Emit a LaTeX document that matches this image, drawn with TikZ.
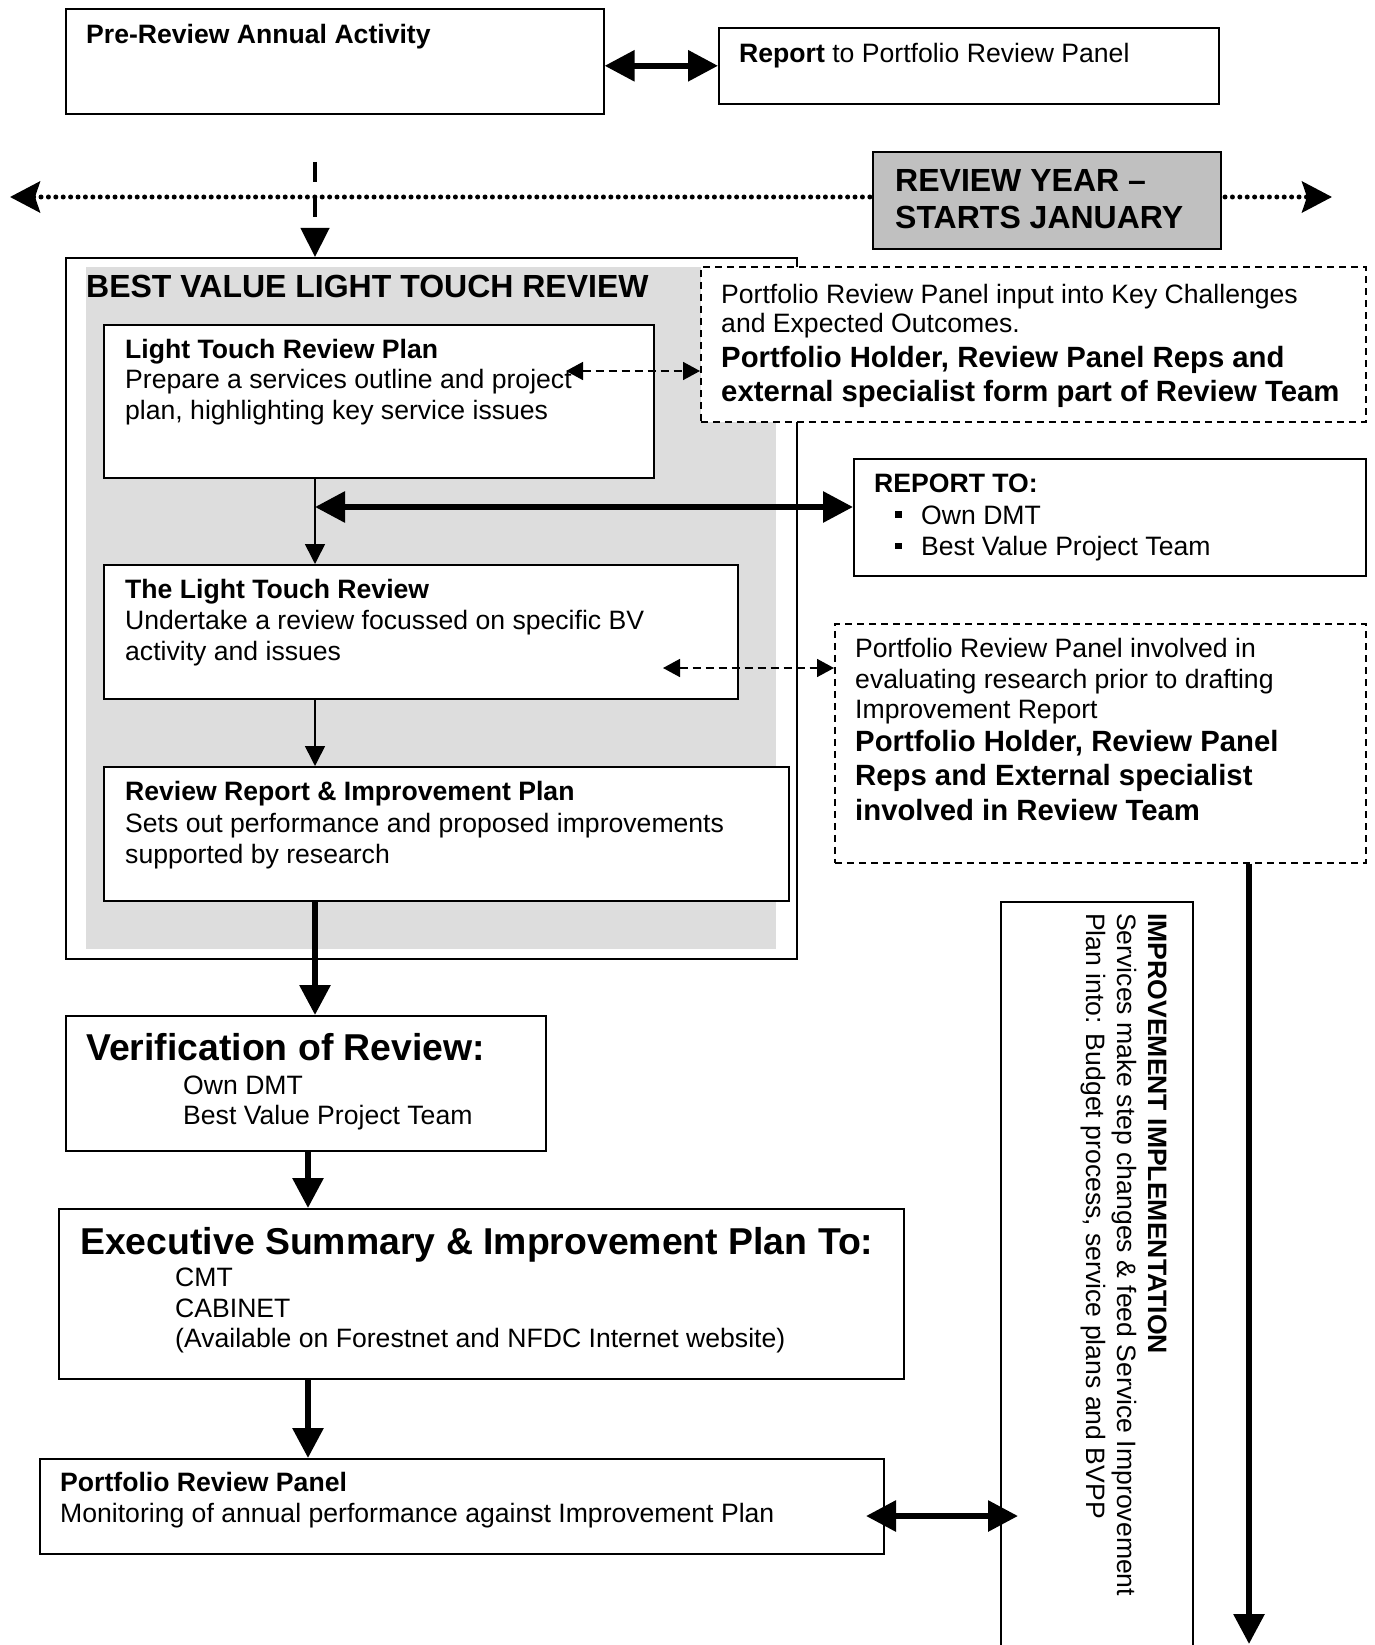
\documentclass[tikz,border=0pt]{standalone}
\usepackage{fontspec}
\setmainfont{Liberation Sans}
\usetikzlibrary{arrows.meta}
\definecolor{yeargray}{HTML}{C0C0C0}
\definecolor{reviewgray}{HTML}{DDDDDD}
\newcommand{\txtsize}{\fontsize{26.6pt}{30.8pt}\selectfont}
\newcommand{\bigsize}{\fontsize{32pt}{37.5pt}\selectfont}
\newcommand{\hugesize}{\fontsize{37.4pt}{43pt}\selectfont}
\newcommand{\teamsize}{\fontsize{29.3pt}{34.5pt}\selectfont}
\newcommand{\sqitem}{\makebox[47pt][l]{\hspace*{21pt}\rule[6.5pt]{6.5pt}{6.5pt}}}

\begin{document}
\begin{tikzpicture}
[every node/.style={inner sep=0pt},
 flowbox/.style={rectangle, anchor=north west, draw=black, line width=1.6pt, fill=white},
 dashedbox/.style={flowbox, dash pattern=on 7pt off 5pt, line width=1.5pt},
 boxtext/.style={anchor=north west, align=left, font=\txtsize},
 lightarrow/.style={line width=1.6pt, -{Triangle[length=20pt,width=20pt]}},
 heavyarrow/.style={line width=6pt, -{Triangle[length=30pt,width=30pt]}},
 heavyboth/.style={line width=6pt, {Triangle[length=30pt,width=30pt]}-{Triangle[length=30pt,width=30pt]}},
 dashedboth/.style={line width=1.6pt, dash pattern=on 8pt off 5pt, {Triangle[length=17pt,width=18pt]}-{Triangle[length=17pt,width=18pt]}},
 startarrow/.style={line width=4.5pt, dash pattern=on 20pt off 15pt, -{Triangle[length=29pt,width=28pt]}},
 timeline/.style={line width=5pt, line cap=round, dash pattern=on 0pt off 7.4pt, {Stealth[length=30pt,width=31pt,inset=5pt]}-{Stealth[length=30pt,width=31pt,inset=5pt]}}]
\useasboundingbox (0pt,0pt) rectangle (1374pt,-1645pt);

% pre-review
\node (prereview) [flowbox, minimum width=538pt, minimum height=105pt] at (65pt,-8pt) {};
\node [boxtext] at (86pt,-24pt) {\bfseries Pre-Review Annual Activity};
\node (report) [flowbox, minimum width=500pt, minimum height=76pt] at (718pt,-27pt) {};
\node [boxtext] at (739pt,-42.6pt) {\textbf{Report} to Portfolio Review Panel};
\draw [heavyboth] (report.west -| prereview.east) -- (report.west);

% review year
\coordinate (yearstart) at (10pt,-197pt);
\coordinate (yearend) at (1332pt,-197pt);
\draw [timeline] (yearstart) -- (yearend);
\node (reviewyear) [flowbox, fill=yeargray, minimum width=348pt, minimum height=97pt] at (872pt,-151pt) {};
\node [boxtext, font=\bigsize\bfseries] at (895pt,-169pt) {REVIEW YEAR –\\STARTS JANUARY};

% light touch review
\node (ltr) [flowbox, minimum width=731pt, minimum height=701pt] at (65pt,-257pt) {};
\fill [reviewgray] (86pt,-267pt) rectangle (776pt,-949pt);
\coordinate (dashstart) at (315pt,-162pt);
\draw [startarrow] (dashstart) -- (dashstart |- ltr.north);
\node [boxtext, font=\bigsize\bfseries] at (86pt,-275pt) {BEST VALUE LIGHT TOUCH REVIEW};

\node (plan) [flowbox, minimum width=550pt, minimum height=153pt] at (103pt,-324pt) {};
\node [boxtext] at (125pt,-338.7pt) {\textbf{Light Touch Review Plan}\\Prepare a services outline and project\\plan, highlighting key service issues};

\node (panelinput) [dashedbox, minimum width=665pt, minimum height=155pt] at (700pt,-266pt) {};
\node [boxtext] at (721pt,-283.6pt) {Portfolio Review Panel input into Key Challenges\\[-1.3pt]and Expected Outcomes.\\[3.7pt]{\teamsize\bfseries Portfolio Holder, Review Panel Reps and}\\[3.9pt]{\teamsize\bfseries external specialist form part of Review Team}};

\node (reportto) [flowbox, minimum width=512pt, minimum height=117pt] at (853pt,-458pt) {};
\node [boxtext] at (874pt,-474pt) {\textbf{REPORT TO:}\\[0.7pt]\sqitem Own DMT\\[0.7pt]\sqitem Best Value Project Team};

\node (review) [flowbox, minimum width=634pt, minimum height=134pt] at (103pt,-564pt) {};
\node [boxtext] at (125pt,-579pt) {\textbf{The Light Touch Review}\\Undertake a review focussed on specific BV\\activity and issues};

\node (evaluate) [dashedbox, minimum width=531pt, minimum height=239pt] at (834pt,-623pt) {};
\node [boxtext] at (855pt,-638.3pt) {Portfolio Review Panel involved in\\[-0.4pt]evaluating research prior to drafting\\[-0.4pt]Improvement Report\\[1.7pt]{\teamsize\bfseries Portfolio Holder, Review Panel}\\[3.8pt]{\teamsize\bfseries Reps and External specialist}\\[3.6pt]{\teamsize\bfseries involved in Review Team}};

\node (reviewreport) [flowbox, minimum width=685pt, minimum height=134pt] at (103pt,-766pt) {};
\node [boxtext] at (125pt,-781pt) {\textbf{Review Report \& Improvement Plan}\\[1.2pt]Sets out performance and proposed improvements\\supported by research};

% after the review
\node (verify) [flowbox, minimum width=480pt, minimum height=135pt] at (65pt,-1015pt) {};
\node [boxtext] at (86pt,-1032.8pt) {{\hugesize\bfseries Verification of Review:}\\[3.2pt]\hspace*{97pt}Own DMT\\[-0.8pt]\hspace*{97pt}Best Value Project Team};

\node (summary) [flowbox, minimum width=845pt, minimum height=170pt] at (58pt,-1208pt) {};
\node [boxtext] at (80pt,-1227.5pt) {{\hugesize\bfseries Executive Summary \& Improvement Plan To:}\\[0.7pt]\hspace*{95pt}CMT\\\hspace*{95pt}CABINET\\\hspace*{95pt}(Available on Forestnet and NFDC Internet website)};

\node (monitor) [flowbox, minimum width=844pt, minimum height=95pt] at (39pt,-1458pt) {};
\node [boxtext] at (60pt,-1472pt) {\textbf{Portfolio Review Panel}\\[0.7pt]Monitoring of annual performance against Improvement Plan};

\node (implement) [flowbox, minimum width=192pt, minimum height=760pt] at (1000pt,-901pt) {};
\node [boxtext, rotate=-90] at (1167pt,-913pt) {\textbf{IMPROVEMENT IMPLEMENTATION}\\Services make step changes \& feed Service Improvement\\Plan into: Budget process, service plans and BVPP};

% connectors
\coordinate (planlink) at (566pt,-371pt);
\draw [dashedboth] (planlink) -- (planlink -| panelinput.west);
\coordinate (reviewlink) at (663pt,-668pt);
\draw [dashedboth] (reviewlink) -- (reviewlink -| evaluate.west);
\coordinate (spine) at (315pt,-500pt);
\draw [lightarrow] (plan.south -| spine) -- (review.north -| spine);
\draw [lightarrow] (review.south -| spine) -- (reviewreport.north -| spine);
\coordinate (reportlink) at (315pt,-507pt);
\draw [heavyboth] (reportlink) -- (reportlink -| reportto.west);
\draw [heavyarrow] (reviewreport.south -| spine) -- (verify.north -| spine);
\coordinate (outspine) at (308pt,-1200pt);
\draw [heavyarrow] (verify.south -| outspine) -- (summary.north -| outspine);
\draw [heavyarrow] (summary.south -| outspine) -- (monitor.north -| outspine);
\coordinate (monitorlink) at (866pt,-1516pt);
\coordinate (implementlink) at (1018pt,-1516pt);
\draw [heavyboth] (monitorlink) -- (implementlink);
\coordinate (yearclose) at (1249pt,-1644pt);
\draw [heavyarrow] (evaluate.south -| yearclose) -- (yearclose);
\end{tikzpicture}
\end{document}
